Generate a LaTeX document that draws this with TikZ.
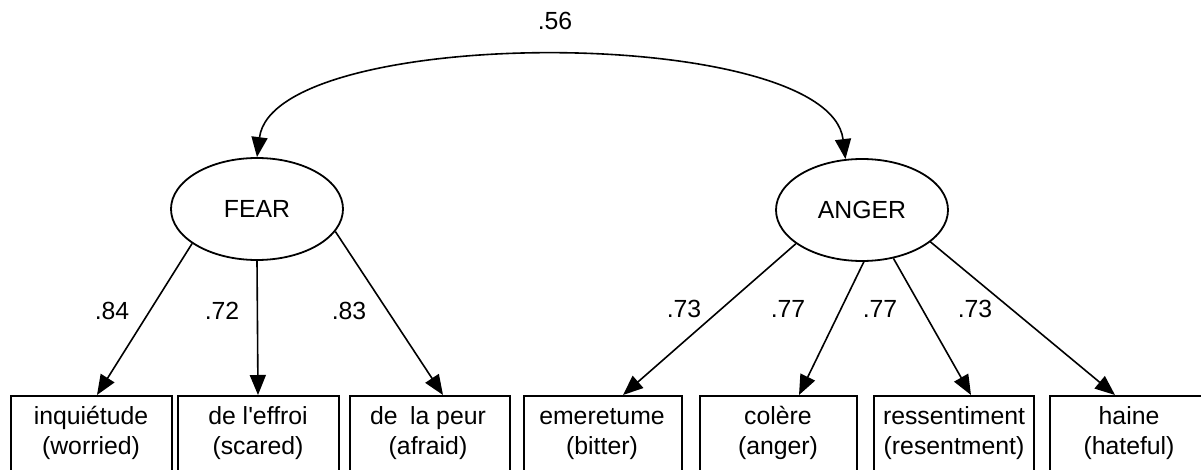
\documentclass[tikz,border=0pt]{standalone}
\usepackage{fontspec}
\setmainfont{Liberation Sans}
\usetikzlibrary{arrows.meta,shapes.geometric}
\begin{document}
\begin{tikzpicture}[x=1pt,y=-1pt,
  every node/.style={font=\fontsize{24.8}{30}\selectfont},
  latent/.style={draw,ellipse,line width=1.8pt,minimum width=172pt,minimum height=102pt,inner sep=0pt},
  obsbox/.style={draw,rectangle,line width=1.8pt,minimum height=110pt,anchor=north,inner sep=0pt},
  wtxt/.style={anchor=base,inner sep=0pt},
  coef/.style={inner sep=0pt},
  arr/.style={line width=1.6pt,-{Triangle[length=20pt,width=16pt]}},
  dblarr/.style={line width=1.6pt,{Triangle[length=20pt,width=16pt]}-{Triangle[length=20pt,width=16pt]}}
]
\useasboundingbox (0,0) rectangle (1201,470);
\clip (0,0) rectangle (1201,470);

\node[latent] (fear) at (257,209) {FEAR};
\node[latent] (anger) at (862,210) {ANGER};

\node[obsbox,minimum width=161pt] (b1) at (91.5,395) {};
\node[obsbox,minimum width=161pt] (b2) at (258.5,395) {};
\node[obsbox,minimum width=160pt] (b3) at (430,395) {};
\node[obsbox,minimum width=158pt] (b4) at (603,395) {};
\node[obsbox,minimum width=157pt] (b5) at (778.5,395) {};
\node[obsbox,minimum width=160pt] (b6) at (954,395) {};
\node[obsbox,minimum width=160pt] (b7) at (1130,395) {};

\node[wtxt] (b1a) at (91,424) {inquiétude};
\node[wtxt] (b1b) at (91,454) {(worried)};
\node[wtxt] (b2a) at (258,424) {de l\textquotesingle effroi};
\node[wtxt] (b2b) at (258,454) {(scared)};
\node[wtxt] (b3a) at (428,424) {de\hspace{0.5em}la peur};
\node[wtxt] (b3b) at (428,454) {(afraid)};
\node[wtxt] (b4a) at (602,424) {emeretume};
\node[wtxt] (b4b) at (602,454) {(bitter)};
\node[wtxt] (b5a) at (778,424) {colère};
\node[wtxt] (b5b) at (778,454) {(anger)};
\node[wtxt] (b6a) at (954,424) {ressentiment};
\node[wtxt] (b6b) at (954,454) {(resentment)};
\node[wtxt] (b7a) at (1129,424) {haine};
\node[wtxt] (b7b) at (1129,454) {(hateful)};

\draw[dblarr] (fear.north) .. controls (274,24) and (829,24) .. (anger.108);

\draw[arr] (fear.208) -- ([xshift=5.5pt]b1.north);
\draw[arr] (fear.270) -- ([xshift=-0.5pt]b2.north);
\draw[arr] (fear.344) -- ([xshift=13pt]b3.north);
\draw[arr] (anger.207) -- ([xshift=20pt]b4.north);
\draw[arr] (anger.272) -- ([xshift=20.5pt]b5.north);
\draw[arr] (anger.303) -- ([xshift=17pt]b6.north);
\draw[arr] (anger.335) -- ([xshift=-15pt]b7.north);

\node[coef] (c0) at (555,21) {.56};
\node[coef] (c1) at (112,311) {.84};
\node[coef] (c2) at (222,311) {.72};
\node[coef] (c3) at (349,311) {.83};
\node[coef] (c4) at (684,309) {.73};
\node[coef] (c5) at (788,309) {.77};
\node[coef] (c6) at (880,309) {.77};
\node[coef] (c7) at (975,309) {.73};
\end{tikzpicture}
\end{document}
